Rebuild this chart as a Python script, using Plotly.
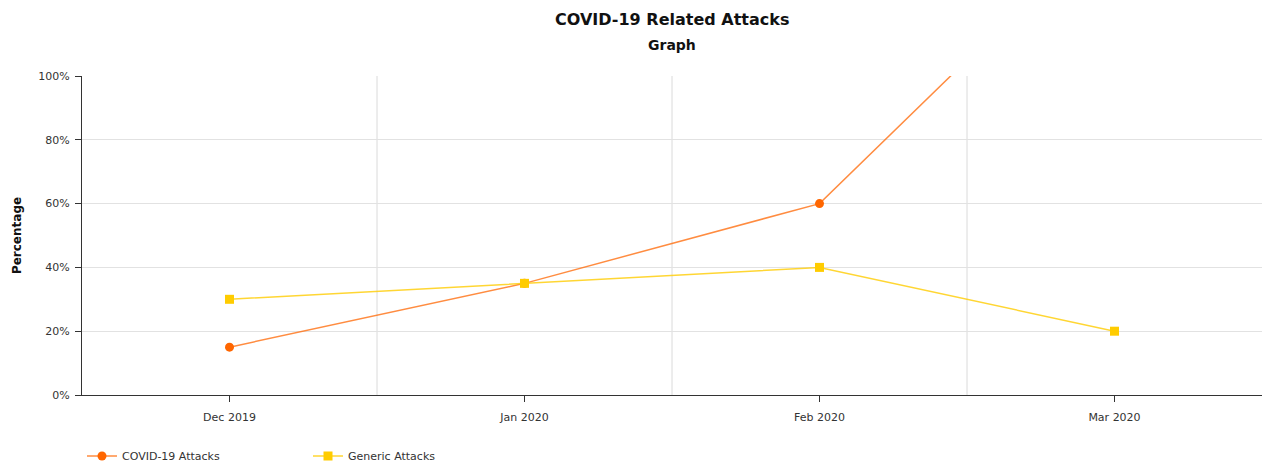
import plotly.graph_objects as go

categories = ["Dec 2019", "Jan 2020", "Feb 2020", "Mar 2020"]
covid_attacks = [15, 35, 60, 150]
generic_attacks = [30, 35, 40, 20]
y_ticks = [0, 20, 40, 60, 80, 100]
y_tick_labels = [f"{v}%" for v in y_ticks]

xpos = list(range(len(categories)))

fig = go.Figure()
fig.add_trace(go.Scatter(
    x=xpos, y=covid_attacks, name="COVID-19 Attacks", mode="lines+markers",
    line=dict(color="rgba(255,102,0,0.75)", width=1.5),
    marker=dict(symbol="circle", size=9, color="#FF6600"),
    cliponaxis=True,
))
fig.add_trace(go.Scatter(
    x=xpos, y=generic_attacks, name="Generic Attacks", mode="lines+markers",
    line=dict(color="rgba(255,204,0,0.8)", width=1.5),
    marker=dict(symbol="square", size=9, color="#FFCC00"),
    cliponaxis=True,
))

for b in [0.5, 1.5, 2.5]:
    fig.add_shape(type="line", xref="x", yref="paper", x0=b, x1=b, y0=0, y1=1,
                  line=dict(color="#dadada", width=1), layer="below")

H = 463
TOP, BOT = 76, 395
PH = BOT - TOP


def py(pix):
    return (BOT - pix) / PH


fig.add_annotation(text="<b>COVID-19 Related Attacks</b>", xref="paper", yref="paper",
                   x=0.5, y=py(20), xanchor="center", yanchor="middle", showarrow=False,
                   font=dict(family="DejaVu Sans", size=16, color="#111111"))
fig.add_annotation(text="<b>Graph</b>", xref="paper", yref="paper",
                   x=0.5, y=py(45), xanchor="center", yanchor="middle", showarrow=False,
                   font=dict(family="DejaVu Sans", size=14, color="#111111"))

fig.update_layout(
    width=1265, height=H,
    margin=dict(l=82, r=3, t=TOP, b=H - BOT),
    paper_bgcolor="white", plot_bgcolor="white",
    font=dict(family="DejaVu Sans", size=11, color="#333333"),
    xaxis=dict(
        range=[-0.5, 3.5], tickvals=xpos, ticktext=categories,
        showgrid=False, zeroline=False, showline=True, linecolor="#333333", linewidth=1,
        ticks="outside", ticklen=6, tickcolor="#333333", ticklabelstandoff=6,
    ),
    yaxis=dict(
        range=[0, 100], tickvals=y_ticks, ticktext=y_tick_labels,
        showgrid=True, gridcolor="#e2e2e2", zeroline=False,
        showline=True, linecolor="#333333", linewidth=1,
        ticks="outside", ticklen=6, tickcolor="#333333", ticklabelstandoff=3,
        title=dict(text="<b>Percentage</b>", font=dict(size=12, color="#111111"), standoff=14),
    ),
    showlegend=True,
    legend=dict(orientation="h", x=0, xanchor="left", xref="paper",
                y=1 - 456 / H, yanchor="middle", yref="container",
                entrywidth=181, entrywidthmode="pixels",
                font=dict(size=11, color="#333333"), bgcolor="rgba(0,0,0,0)"),
)

fig.write_html("out.html")
